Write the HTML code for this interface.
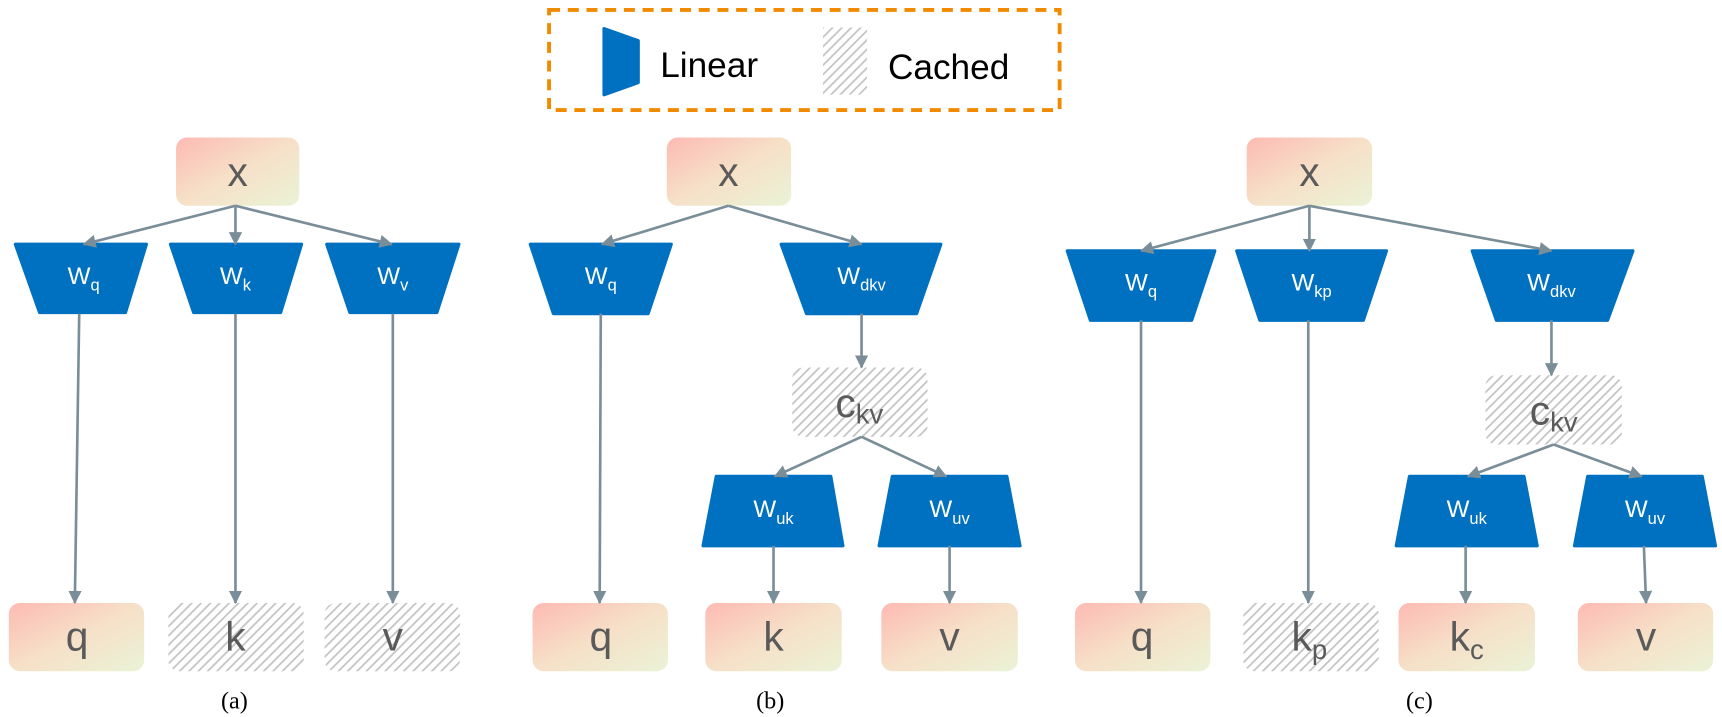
<!DOCTYPE html>
<html><head><meta charset="utf-8"><style>
html,body{margin:0;padding:0;background:#fff;}
svg{display:block;}
text{font-family:"Liberation Sans",Arial,sans-serif;}
.lb{font-size:37px;fill:#5a5a5a;text-anchor:middle;}
.w{font-size:22px;fill:#fff;text-anchor:middle;}
.cap{font-family:"Liberation Serif",serif;font-size:22px;fill:#000;text-anchor:middle;}
.ln{stroke:#7a8e99;stroke-width:2.4;fill:none;marker-end:url(#ah);}
</style></head><body>
<svg width="1722" height="717" viewBox="0 0 1565 651.6" xmlns="http://www.w3.org/2000/svg">
<defs>
<linearGradient id="g" x1="0" y1="0" x2="1" y2="1">
<stop offset="0" stop-color="#fdbab3"/><stop offset="0.5" stop-color="#f6e0c8"/><stop offset="1" stop-color="#eaf3d6"/>
</linearGradient>
<pattern id="h" width="6" height="6" patternUnits="userSpaceOnUse" patternTransform="rotate(45)">
<rect width="6" height="6" fill="#fff"/><rect width="1.6" height="6" fill="#c4c4c4"/>
</pattern>
<marker id="ah" markerWidth="12" markerHeight="12" refX="11" refY="6" orient="auto" markerUnits="userSpaceOnUse">
<path d="M0,0 L12,6 L0,12 z" fill="#7a8e99"/>
</marker>
</defs>

<rect x="499" y="9" width="464" height="91" fill="none" stroke="#f08a00" stroke-width="3.5" stroke-dasharray="10,7"/>
<path d="M549,26 L580,37 L580,75 L549,86 z" fill="#0070c0" stroke="#0070c0" stroke-width="3" stroke-linejoin="round"/>
<text x="600" y="70" font-size="32" fill="#000">Linear</text>
<rect x="748" y="25" width="40" height="61" fill="url(#h)"/>
<text x="807" y="72" font-size="32" fill="#000">Cached</text>

<g fill="url(#g)">
<rect x="160" y="125" width="112" height="62" rx="10"/>
<rect x="8" y="548" width="123" height="62" rx="10"/>
<rect x="606" y="125" width="113" height="62" rx="10"/>
<rect x="484" y="548" width="123" height="62" rx="10"/>
<rect x="641" y="548" width="124" height="62" rx="10"/>
<rect x="801" y="548" width="124" height="62" rx="10"/>
<rect x="1133" y="125" width="114" height="62" rx="10"/>
<rect x="977" y="548" width="123" height="62" rx="10"/>
<rect x="1271" y="548" width="124" height="62" rx="10"/>
<rect x="1434" y="548" width="123" height="62" rx="10"/>
</g>
<g fill="url(#h)">
<rect x="153" y="548" width="123" height="62" rx="10"/>
<rect x="295" y="548" width="123" height="62" rx="10"/>
<rect x="720" y="334" width="123" height="63" rx="10"/>
<rect x="1350" y="341" width="124" height="63" rx="10"/>
<rect x="1130" y="548" width="123" height="62" rx="10"/>
</g>

<g fill="#0070c0" stroke="#0070c0" stroke-width="3" stroke-linejoin="round">
<path d="M14,222 L133,222 L114,284 L36,284 z"/>
<path d="M155,222 L274,222 L255,284 L176,284 z"/>
<path d="M297,222 L417,222 L397,284 L318,284 z"/>
<path d="M482,222 L610,222 L589,285 L503,285 z"/>
<path d="M710,222 L855,222 L833,285 L733,285 z"/>
<path d="M651,433 L755,433 L766,496 L639,496 z"/>
<path d="M811,433 L915,433 L927,496 L799,496 z"/>
<path d="M970,228 L1104,228 L1083,291 L991,291 z"/>
<path d="M1124,228 L1260,228 L1239,291 L1145,291 z"/>
<path d="M1338,228 L1484,228 L1461,291 L1360,291 z"/>
<path d="M1281,433 L1385,433 L1397,496 L1269,496 z"/>
<path d="M1443,433 L1547,433 L1559,496 L1431,496 z"/>
</g>

<path class="ln" d="M214,187 L76,222"/>
<path class="ln" d="M214,187 L214,222"/>
<path class="ln" d="M214,187 L356,222"/>
<path class="ln" d="M72,285 L68,548"/>
<path class="ln" d="M214,285 L214,548"/>
<path class="ln" d="M357,285 L357,548"/>

<path class="ln" d="M662,187 L547,222"/>
<path class="ln" d="M662,187 L783,222"/>
<path class="ln" d="M546,285 L545,548"/>
<path class="ln" d="M783,285 L783,334"/>
<path class="ln" d="M783,397 L704,433"/>
<path class="ln" d="M783,397 L860,433"/>
<path class="ln" d="M703,496 L703,548"/>
<path class="ln" d="M863,496 L863,548"/>

<path class="ln" d="M1190,187 L1037,228"/>
<path class="ln" d="M1190,187 L1190,228"/>
<path class="ln" d="M1190,187 L1410,228"/>
<path class="ln" d="M1037,291 L1037,548"/>
<path class="ln" d="M1189,291 L1189,548"/>
<path class="ln" d="M1410,291 L1410,341"/>
<path class="ln" d="M1412,404 L1334,433"/>
<path class="ln" d="M1412,404 L1492,433"/>
<path class="ln" d="M1332,496 L1332,548"/>
<path class="ln" d="M1494,496 L1496,548"/>

<text class="lb" x="216" y="169">x</text>
<text class="lb" x="662" y="169">x</text>
<text class="lb" x="1190" y="169">x</text>
<text class="lb" x="70" y="591">q</text>
<text class="lb" x="214" y="591">k</text>
<text class="lb" x="357" y="591">v</text>
<text class="lb" x="546" y="591">q</text>
<text class="lb" x="703" y="591">k</text>
<text class="lb" x="863" y="591">v</text>
<text class="lb" x="1038" y="591">q</text>
<text class="lb" x="1190" y="591">k<tspan font-size="25" dy="8">p</tspan></text>
<text class="lb" x="1333" y="591">k<tspan font-size="25" dy="8">c</tspan></text>
<text class="lb" x="1496" y="591">v</text>
<text class="lb" x="781" y="379">c<tspan font-size="25" dy="6">kv</tspan></text>
<text class="lb" x="1412" y="386">c<tspan font-size="25" dy="6">kv</tspan></text>

<text class="w" x="76" y="258">W<tspan font-size="15" dy="6">q</tspan></text>
<text class="w" x="214" y="258">W<tspan font-size="15" dy="6">k</tspan></text>
<text class="w" x="357" y="258">W<tspan font-size="15" dy="6">v</tspan></text>
<text class="w" x="546" y="258">W<tspan font-size="15" dy="6">q</tspan></text>
<text class="w" x="783" y="258">W<tspan font-size="15" dy="6">dkv</tspan></text>
<text class="w" x="703" y="470">W<tspan font-size="15" dy="6">uk</tspan></text>
<text class="w" x="863" y="470">W<tspan font-size="15" dy="6">uv</tspan></text>
<text class="w" x="1037" y="264">W<tspan font-size="15" dy="6">q</tspan></text>
<text class="w" x="1192" y="264">W<tspan font-size="15" dy="6">kp</tspan></text>
<text class="w" x="1410" y="264">W<tspan font-size="15" dy="6">dkv</tspan></text>
<text class="w" x="1333" y="470">W<tspan font-size="15" dy="6">uk</tspan></text>
<text class="w" x="1495" y="470">W<tspan font-size="15" dy="6">uv</tspan></text>

<text class="cap" x="213" y="644">(a)</text>
<text class="cap" x="700" y="644">(b)</text>
<text class="cap" x="1290" y="644">(c)</text>
</svg>
</body></html>
